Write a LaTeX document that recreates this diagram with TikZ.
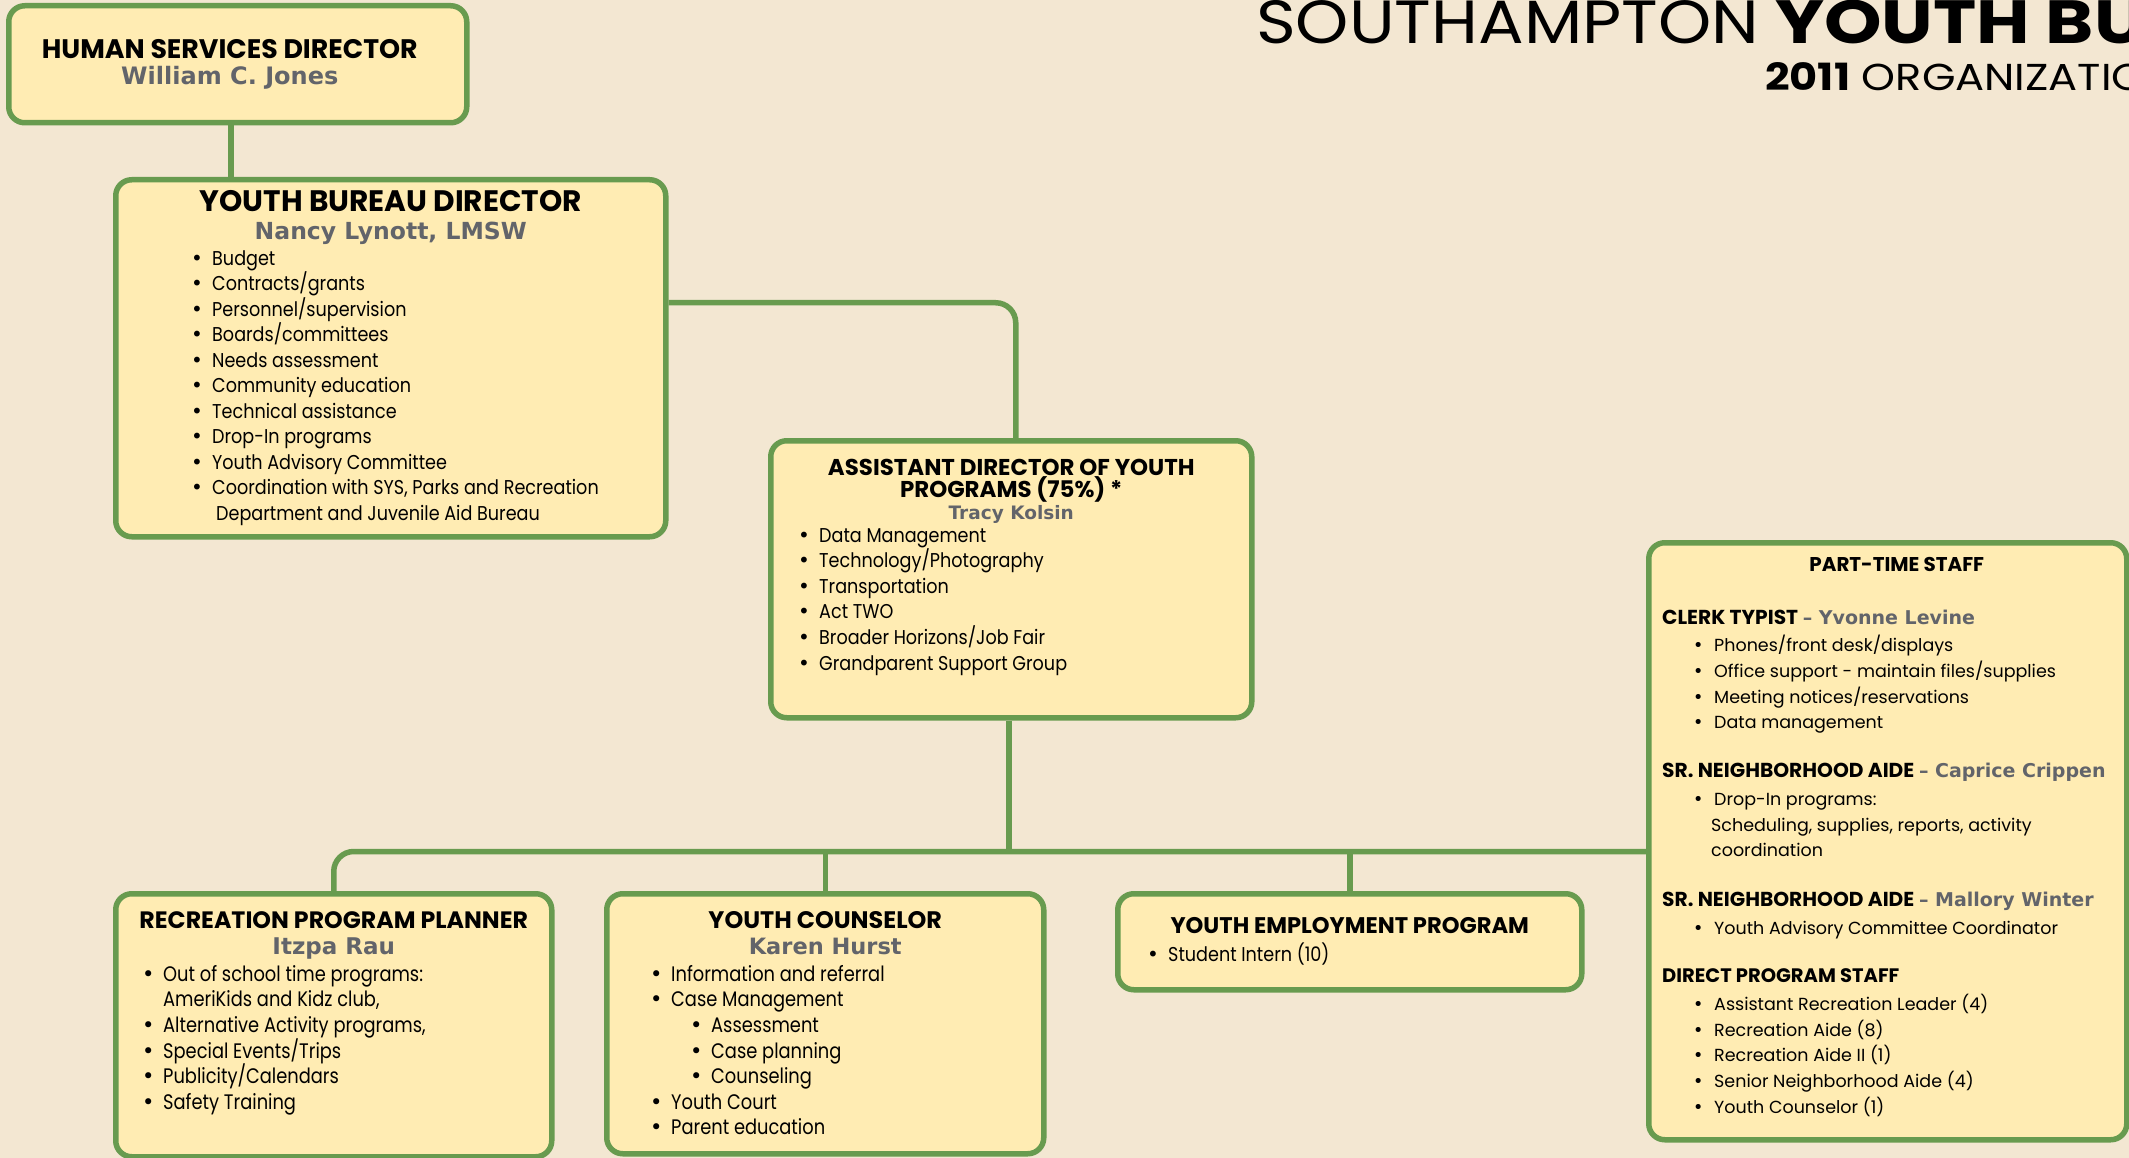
\documentclass[tikz,border=0pt]{standalone}
\usepackage{fontspec}
\setmainfont{Poppins}
\newfontfamily\bookfont{Poppins}[FakeStretch=0.88]
\newfontfamily\condfont{Poppins}[FakeStretch=0.85]
\newfontfamily\namefont{DejaVu Sans}
\newfontfamily\bannerfont{Poppins}[FakeStretch=1.11]
\newfontfamily\bannerbold{Poppins}[FakeStretch=1.2]
\newfontfamily\yearfont{Poppins}[FakeStretch=1.15]
\usepackage{tikz}

\definecolor{paper}{RGB}{243,231,210}
\definecolor{cream}{RGB}{255,236,179}
\definecolor{leaf}{RGB}{104,155,79}
\definecolor{slate}{RGB}{98,100,106}

\tikzstyle{box} = [rectangle, draw=leaf, fill=cream, line width=5.5pt,
  rounded corners=16pt, inner sep=0pt, anchor=north west]
\tikzstyle{link} = [draw=leaf, line width=5.5pt]
\tikzstyle{head} = [inner sep=0pt, anchor=base, align=center]
\tikzstyle{who} = [inner sep=0pt, anchor=base, text=slate]
\tikzstyle{list} = [inner sep=0pt, anchor=north west, align=left]

\newcommand{\setsz}[2]{\fontsize{#1}{#2}\selectfont}
\newcommand{\itm}{\makebox[21pt][l]{{\namefont\textbullet}}}
\newcommand{\ptsrole}[2]{{\bfseries\setsz{20.2}{25.7}#1} {\namefont\bfseries\setsz{19}{25.7}\color{slate}–~#2}}

\begin{document}
\begin{tikzpicture}[x=1pt, y=-1pt]
  \fill[paper] (0,0) rectangle (2129,1158);
  \useasboundingbox (0,0) rectangle (2129,1158);

  % banner
  \node[anchor=base west, inner sep=0pt, font=\setsz{61}{64}] (banner) at (1256,44) {{\bannerfont SOUTHAMPTON} {\bannerbold\bfseries YOUTH BU}};
  \node[anchor=base west, inner sep=0pt, font=\yearfont\setsz{37.5}{40}] (year) at (1765,91) {\textbf{2011} ORGANIZATIO};

  % boxes
  \node[box, minimum width=458, minimum height=117] (hsd) at (6,3) {};
  \node[box, minimum width=550, minimum height=357] (ybd) at (113,177) {};
  \node[box, minimum width=481, minimum height=277] (adyp) at (768,438) {};
  \node[box, minimum width=436, minimum height=263] (rpp) at (113,891) {};
  \node[box, minimum width=437, minimum height=260] (yc) at (604,891) {};
  \node[box, minimum width=464, minimum height=96] (yep) at (1115,891) {};
  \node[box, minimum width=478, minimum height=597] (pts) at (1646,540) {};

  % human services
  \node[head, font=\bfseries\setsz{26.8}{28}] (hsdhead) at ([xshift=-8,yshift=-55.5]hsd.north) {HUMAN SERVICES DIRECTOR};
  \node[who, font=\namefont\bfseries\setsz{24}{26}] (hsdname) at ([yshift=-26]hsdhead.base) {William C. Jones};

  % youth bureau director
  \node[head, font=\bfseries\setsz{29.6}{30}] (ybdhead) at ([yshift=-35]ybd.north) {YOUTH BUREAU DIRECTOR};
  \node[who, font=\namefont\bfseries\setsz{23.5}{26}] (ybdname) at ([yshift=-28]ybdhead.base) {Nancy Lynott, LMSW};
  \node[list, font=\bookfont\setsz{20}{25.5}] (ybdlist) at ([xshift=78,yshift=-73]ybd.north west) {%
    \itm Budget\\
    \itm Contracts/grants\\
    \itm Personnel/supervision\\
    \itm Boards/committees\\
    \itm Needs assessment\\
    \itm Community education\\
    \itm Technical assistance\\
    \itm Drop-In programs\\
    \itm Youth Advisory Committee\\
    \itm Coordination with SYS, Parks and Recreation\\
    \hspace*{25pt}Department and Juvenile Aid Bureau};

  % assistant director
  \node[head, anchor=north, font=\bfseries\setsz{22.9}{21}] (adyphead) at ([yshift=-20.5]adyp.north) {ASSISTANT DIRECTOR OF YOUTH\\PROGRAMS (75\%) *};
  \node[who, font=\namefont\bfseries\setsz{18.5}{22}] (adypname) at ([yshift=-81]adyp.north) {Tracy Kolsin};
  \node[list, font=\bookfont\setsz{20}{25.6}] (adyplist) at ([xshift=30,yshift=-90]adyp.north west) {%
    \itm Data Management\\
    \itm Technology/Photography\\
    \itm Transportation\\
    \itm Act TWO\\
    \itm Broader Horizons/Job Fair\\
    \itm Grandparent Support Group};

  % recreation program planner
  \node[head, font=\bfseries\setsz{23.7}{24}] (rpphead) at ([yshift=-37.5]rpp.north) {RECREATION PROGRAM PLANNER};
  \node[who, font=\namefont\bfseries\setsz{23}{26}] (rppname) at ([yshift=-26]rpphead.base) {Itzpa Rau};
  \node[list, font=\condfont\setsz{21}{25.6}] (rpplist) at ([xshift=29,yshift=-74]rpp.north west) {%
    \itm Out of school time programs:\\
    \hspace*{21pt}AmeriKids and Kidz club,\\
    \itm Alternative Activity programs,\\
    \itm Special Events/Trips\\
    \itm Publicity/Calendars\\
    \itm Safety Training};

  % youth counselor
  \node[head, font=\bfseries\setsz{23.9}{24}] (ychead) at ([yshift=-37.5]yc.north) {YOUTH COUNSELOR};
  \node[who, font=\namefont\bfseries\setsz{22.5}{26}] (ycname) at ([yshift=-26]ychead.base) {Karen Hurst};
  \node[list, font=\condfont\setsz{21}{25.6}] (yclist) at ([xshift=46,yshift=-74]yc.north west) {%
    \itm Information and referral\\
    \itm Case Management\\
    \hspace*{40pt}\itm Assessment\\
    \hspace*{40pt}\itm Case planning\\
    \hspace*{40pt}\itm Counseling\\
    \itm Youth Court\\
    \itm Parent education};

  % youth employment
  \node[head, font=\bfseries\setsz{22.6}{24}] (yephead) at ([yshift=-42]yep.north) {YOUTH EMPLOYMENT PROGRAM};
  \node[list, font=\bookfont\setsz{20}{25.6}] (yeplist) at ([xshift=32,yshift=-51.3]yep.north west) {%
    \itm Student Intern (10)};

  % part-time staff
  \node[head, font=\bfseries\setsz{19.9}{20}] (ptshead) at ([xshift=9,yshift=-31.5]pts.north) {PART-TIME STAFF};
  \node[list, font=\setsz{17.5}{25.7}] (ptsbody) at ([xshift=16,yshift=-69.5]pts.north west) {%
    \ptsrole{CLERK TYPIST}{Yvonne Levine}\\[2pt]
    \hspace*{31pt}\itm Phones/front desk/displays\\
    \hspace*{31pt}\itm Office support - maintain files/supplies\\
    \hspace*{31pt}\itm Meeting notices/reservations\\
    \hspace*{31pt}\itm Data management\\[23pt]
    \ptsrole{SR. NEIGHBORHOOD AIDE}{Caprice Crippen}\\[2pt]
    \hspace*{31pt}\itm Drop-In programs:\\
    \hspace*{49pt}Scheduling, supplies, reports, activity\\
    \hspace*{49pt}coordination\\[24pt]
    \ptsrole{SR. NEIGHBORHOOD AIDE}{Mallory Winter}\\[2pt]
    \hspace*{31pt}\itm Youth Advisory Committee Coordinator\\[23pt]
    {\bfseries\setsz{19.5}{25.7}DIRECT PROGRAM STAFF}\\[2pt]
    \hspace*{31pt}\itm Assistant Recreation Leader (4)\\
    \hspace*{31pt}\itm Recreation Aide (8)\\
    \hspace*{31pt}\itm Recreation Aide II (1)\\
    \hspace*{31pt}\itm Senior Neighborhood Aide (4)\\
    \hspace*{31pt}\itm Youth Counselor (1)};

  % connectors
  \coordinate (bus) at (0,851.5);
  \draw[link] ([xshift=-7]hsd.south) -- ([xshift=-7]hsd.south |- ybd.north);
  \draw[link, rounded corners=20pt] ([yshift=55.5]ybd.east) -| ([xshift=4.5]adyp.north);
  \draw[link] ([xshift=-2.5]adyp.south) -- ([xshift=-2.5]adyp.south |- bus);
  \draw[link, rounded corners=20pt] (pts.west |- bus) -| (rpp.north);
  \draw[link] (yc.north) -- (yc.north |- bus);
  \draw[link] (yep.north) -- (yep.north |- bus);
\end{tikzpicture}
\end{document}
